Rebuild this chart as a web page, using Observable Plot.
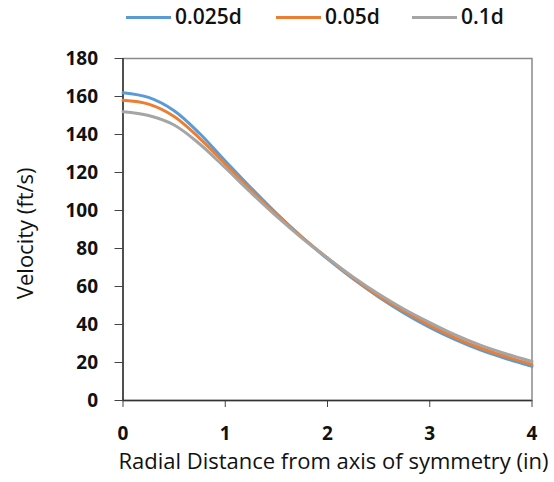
<!DOCTYPE html>
<html>
<head>
<meta charset="utf-8">
<script src="https://cdn.jsdelivr.net/npm/d3@7"></script>
<script src="https://cdn.jsdelivr.net/npm/@observablehq/plot@0.6"></script>
<style>
  html, body { margin: 0; padding: 0; background: #fff; }
  body { width: 554px; height: 482px; overflow: hidden; font-family: "Open Sans", sans-serif; }
  #legend { position: relative; width: 554px; height: 35px; }
  #legend .sw { position: absolute; height: 3px; top: 16px; width: 45px; }
  #legend .lb { position: absolute; top: 2px; font-size: 21px; font-weight: 600; color: #111; line-height: 28px; }
</style>
</head>
<body>
<div id="legend"></div>
<div id="chart"></div>
<script>
const radial = [0, 0.25, 0.5, 0.75, 1, 1.25, 1.5, 1.75, 2, 2.25, 2.5, 2.75, 3, 3.25, 3.5, 3.75, 4];
const v0025 = [162, 159.5, 152.5, 140.5, 126, 112, 98.5, 86, 74.5, 64, 54.5, 46, 38.5, 32, 26.5, 22, 18];
const v005  = [158, 156, 149.5, 138, 124.5, 111, 98, 86, 75, 64.5, 55, 47, 39.5, 33, 27.5, 23, 19];
const v01   = [152, 150, 145, 135, 122.5, 109.5, 97, 85.5, 75, 65, 56, 48, 41, 34.5, 29, 24.5, 20.5];
const seriesNames = ["0.025d", "0.05d", "0.1d"];
const seriesColors = ["#5B9BD5", "#ED7D31", "#A5A5A5"];
const xTicks = [0, 1, 2, 3, 4];
const yTicks = [0, 20, 40, 60, 80, 100, 120, 140, 160, 180];
const xLabel = "Radial Distance from axis of symmetry (in)";
const yLabel = "Velocity (ft/s)";

const seriesValues = [v0025, v005, v01];
const rows = [];
seriesValues.forEach((vals, i) => {
  vals.forEach((v, j) => rows.push({series: seriesNames[i], x: radial[j], y: v}));
});

// legend (HTML, above the SVG)
const legendPos = [{sw: 126, lb: 175}, {sw: 276, lb: 325}, {sw: 412, lb: 461}];
const legend = document.getElementById("legend");
seriesNames.forEach((name, i) => {
  const sw = document.createElement("div");
  sw.className = "sw";
  sw.style.left = legendPos[i].sw + "px";
  sw.style.background = seriesColors[i];
  legend.appendChild(sw);
  const lb = document.createElement("div");
  lb.className = "lb";
  lb.style.left = legendPos[i].lb + "px";
  lb.textContent = name;
  legend.appendChild(lb);
});

const chart = Plot.plot({
  width: 554,
  height: 447,
  marginTop: 23,
  marginLeft: 122.5,
  marginRight: 22.5,
  marginBottom: 82,
  style: {fontFamily: "Open Sans, sans-serif", fontSize: "19px", fontWeight: 700, color: "#111", background: "#fff", overflow: "visible"},
  x: {domain: [0, 4]},
  y: {domain: [0, 180]},
  color: {domain: seriesNames, range: seriesColors},
  marks: [
    Plot.frame({stroke: "#8a8a8a", strokeWidth: 1.5}),
    Plot.axisX({ticks: xTicks, tickSize: 7, tickPadding: 19, tickFormat: d => String(d), label: null, stroke: "#444", fontSize: 19}),
    Plot.axisY({ticks: yTicks, tickSize: 8, tickPadding: 17, tickFormat: d => String(d), label: null, stroke: "#444", fontSize: 19}),
    Plot.ruleX([0], {stroke: "#333", strokeWidth: 1.5}),
    Plot.ruleY([0], {stroke: "#333", strokeWidth: 1.5}),
    Plot.line(rows, {x: "x", y: "y", z: "series", stroke: "series", strokeWidth: 3, curve: "catmull-rom"}),
    Plot.text([xLabel], {frameAnchor: "bottom", dx: 6, dy: 68, fontSize: 22, fontWeight: 500, fill: "#111"}),
    Plot.text([yLabel], {x: () => 0, y: () => 88, dx: -97, rotate: -90, fontSize: 22, fontWeight: 500, fill: "#111"})
  ]
});
document.getElementById("chart").appendChild(chart);
</script>
</body>
</html>
